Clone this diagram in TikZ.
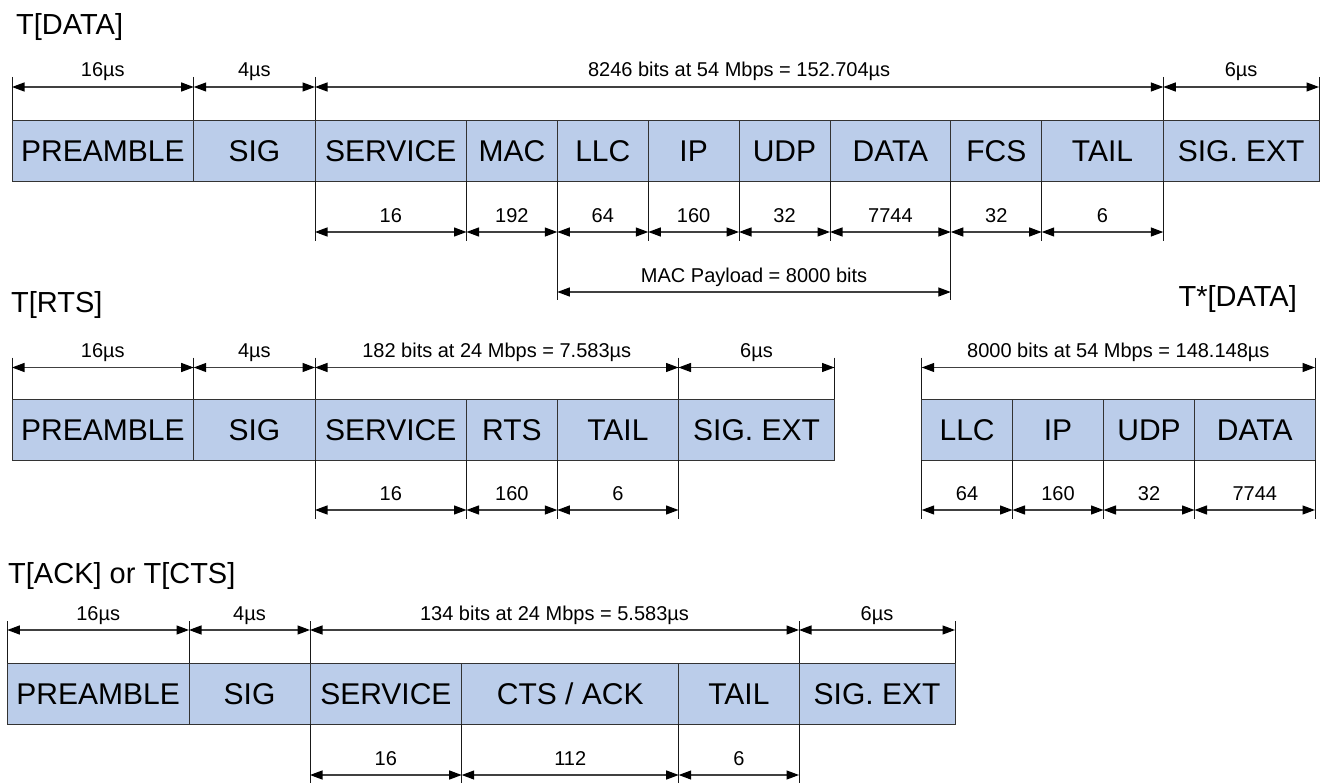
\documentclass[tikz,border=0pt]{standalone}
\usepackage{fontspec}
\setmainfont{Liberation Sans}
\usetikzlibrary{arrows.meta}
\definecolor{fieldblue}{RGB}{187,205,234}
\definecolor{dimgray}{RGB}{64,64,64}
\tikzset{
  fieldbox/.style={draw=black!80, line width=1pt, fill=fieldblue, inner sep=0pt, outer sep=0pt,
    anchor=north west, font=\fontsize{30}{36}\selectfont, text=black, text height=21.5pt, text depth=0pt},
  dimline/.style={draw=dimgray, line width=1.2pt,
    {Triangle[length=12.5pt,width=9pt,color=black]}-{Triangle[length=12.5pt,width=9pt,color=black]}},
  extline/.style={draw=black!90, line width=0.9pt},
  dimlabel/.style={midway, anchor=base, yshift=10pt, font=\fontsize{20}{24}\selectfont, inner sep=0pt},
  titletext/.style={font=\fontsize{29}{34}\selectfont, inner sep=0pt},
}
\newcommand{\fld}[6]{\node[fieldbox, minimum width={(#3)-(#2)}, minimum height={(#5)-(#4)}] (#1) at (#2,#4) {#6};}
\newcommand{\dimr}[5]{\coordinate (#1a) at (#2,#4); \coordinate (#1b) at (#3,#4);
  \draw[dimline] (#1a) -- node[dimlabel]{#5} (#1b);}
\newcommand{\extl}[3]{\draw[extline] (#1,#2) -- (#1,#3);}
\begin{document}
\begin{tikzpicture}[x=1pt,y=-1pt]
\useasboundingbox (0,0) rectangle (1323,784);

% ---------------- Row 1: T[DATA] ----------------
\node[titletext, anchor=base west] (t1) at (16,35) {T[DATA]};
\fld{aPre}{12}{193.7}{120}{181}{PREAMBLE}
\fld{aSig}{193.7}{315}{120}{181}{SIG}
\fld{aSer}{315}{466.5}{120}{181}{SERVICE}
\fld{aMac}{466.5}{557.3}{120}{181}{MAC}
\fld{aLlc}{557.3}{648.3}{120}{181}{LLC}
\fld{aIp}{648.3}{739}{120}{181}{IP}
\fld{aUdp}{739}{830}{120}{181}{UDP}
\fld{aDat}{830}{950.8}{120}{181}{DATA}
\fld{aFcs}{950.8}{1041.7}{120}{181}{FCS}
\fld{aTai}{1041.7}{1163.3}{120}{181}{TAIL}
\fld{aExt}{1163.3}{1319}{120}{181}{SIG. EXT}
\foreach \xx in {12,193.7,315,1163.3,1319} {\extl{\xx}{77}{120}}
\foreach \xx in {315,466.5,648.3,739,830,1041.7,1163.3} {\extl{\xx}{181}{241}}
\foreach \xx in {557.3,950.8} {\extl{\xx}{181}{300}}
\dimr{a1}{12}{193.7}{87}{16µs}
\dimr{a2}{193.7}{315}{87}{4µs}
\dimr{a3}{315}{1163.3}{87}{8246 bits at 54 Mbps = 152.704µs}
\dimr{a4}{1163.3}{1319}{87}{6µs}
\dimr{b1}{315}{466.5}{232}{16}
\dimr{b2}{466.5}{557.3}{232}{192}
\dimr{b3}{557.3}{648.3}{232}{64}
\dimr{b4}{648.3}{739}{232}{160}
\dimr{b5}{739}{830}{232}{32}
\dimr{b6}{830}{950.8}{232}{7744}
\dimr{b7}{950.8}{1041.7}{232}{32}
\dimr{b8}{1041.7}{1163.3}{232}{6}
\dimr{pay}{557.3}{950.8}{292}{MAC Payload = 8000 bits}

% ---------------- Row 2: T[RTS] ----------------
\node[titletext, anchor=base west] (t2) at (11,312) {T[RTS]};
\fld{rPre}{12}{193.7}{399}{460}{PREAMBLE}
\fld{rSig}{193.7}{315}{399}{460}{SIG}
\fld{rSer}{315}{466.5}{399}{460}{SERVICE}
\fld{rRts}{466.5}{557.3}{399}{460}{RTS}
\fld{rTai}{557.3}{678.5}{399}{460}{TAIL}
\fld{rExt}{678.5}{834.5}{399}{460}{SIG. EXT}
\foreach \xx in {12,193.7,315,678.5,834.5} {\extl{\xx}{357.5}{399}}
\foreach \xx in {315,466.5,557.3,678.5} {\extl{\xx}{460}{519}}
\dimr{c1}{12}{193.7}{367.5}{16µs}
\dimr{c2}{193.7}{315}{367.5}{4µs}
\dimr{c3}{315}{678.5}{367.5}{182 bits at 24 Mbps = 7.583µs}
\dimr{c4}{678.5}{834.5}{367.5}{6µs}
\dimr{d1}{315}{466.5}{510}{16}
\dimr{d2}{466.5}{557.3}{510}{160}
\dimr{d3}{557.3}{678.5}{510}{6}

% ---------------- T*[DATA] ----------------
\node[titletext, anchor=base east] (t3) at (1297,306) {T*[DATA]};
\fld{sLlc}{921.7}{1012.5}{399}{460}{LLC}
\fld{sIp}{1012.5}{1103.5}{399}{460}{IP}
\fld{sUdp}{1103.5}{1194.5}{399}{460}{UDP}
\fld{sDat}{1194.5}{1315}{399}{460}{DATA}
\foreach \xx in {921.7,1315} {\extl{\xx}{357.5}{399}}
\foreach \xx in {921.7,1012.5,1103.5,1194.5,1315} {\extl{\xx}{460}{519}}
\dimr{e1}{921.7}{1315}{367.5}{8000 bits at 54 Mbps = 148.148µs}
\dimr{f1}{921.7}{1012.5}{510}{64}
\dimr{f2}{1012.5}{1103.5}{510}{160}
\dimr{f3}{1103.5}{1194.5}{510}{32}
\dimr{f4}{1194.5}{1315}{510}{7744}

% ---------------- Row 3: T[ACK] or T[CTS] ----------------
\node[titletext, anchor=base west] (t4) at (8,583) {T[ACK] or T[CTS]};
\fld{kPre}{7.3}{189}{663}{724}{PREAMBLE}
\fld{kSig}{189}{310}{663}{724}{SIG}
\fld{kSer}{310}{461.7}{663}{724}{SERVICE}
\fld{kAck}{461.7}{678.7}{663}{724}{CTS / ACK}
\fld{kTai}{678.7}{799}{663}{724}{TAIL}
\fld{kExt}{799}{955}{663}{724}{SIG. EXT}
\foreach \xx in {7.3,189,310,799,955} {\extl{\xx}{621}{663}}
\foreach \xx in {310,461.7,678.7,799} {\extl{\xx}{724}{783}}
\dimr{g1}{7.3}{189}{630}{16µs}
\dimr{g2}{189}{310}{630}{4µs}
\dimr{g3}{310}{799}{630}{134 bits at 24 Mbps = 5.583µs}
\dimr{g4}{799}{955}{630}{6µs}
\dimr{h1}{310}{461.7}{775}{16}
\dimr{h2}{461.7}{678.7}{775}{112}
\dimr{h3}{678.7}{799}{775}{6}
\end{tikzpicture}
\end{document}
